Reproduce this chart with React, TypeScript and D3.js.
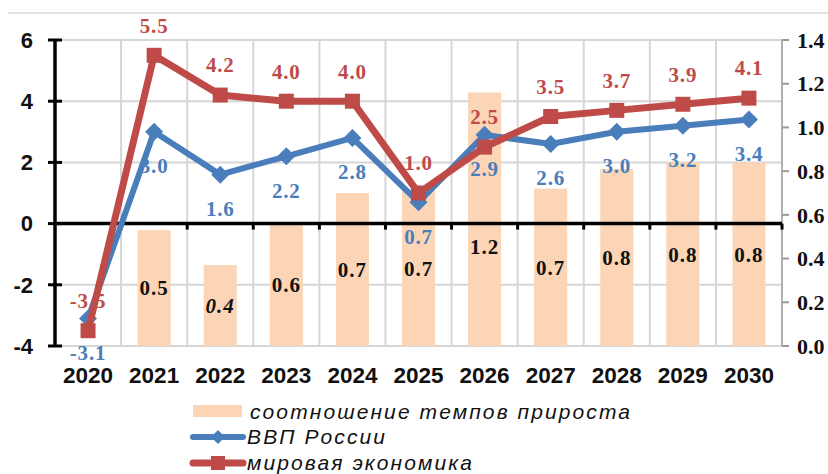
import React from "react";
import * as d3 from "d3";

const years = ["2020","2021","2022","2023","2024","2025","2026","2027","2028","2029","2030"];
const russiaGdp = [-3.1, 3.0, 1.6, 2.2, 2.8, 0.7, 2.9, 2.6, 3.0, 3.2, 3.4];
const worldEconomy = [-3.5, 5.5, 4.2, 4.0, 4.0, 1.0, 2.5, 3.5, 3.7, 3.9, 4.1];
const growthRatio: (number | null)[] = [null, 0.53, 0.37, 0.56, 0.70, 0.71, 1.16, 0.72, 0.81, 0.84, 0.84];
const leftTicks = [-4, -2, 0, 2, 4, 6];
const rightTicks = [0, 0.2, 0.4, 0.6, 0.8, 1.0, 1.2, 1.4];
const legendLabels = ["соотношение темпов прироста", "ВВП России", "мировая экономика"];

const W = 828, H = 474;
const L = 55, R = 782, T = 40, B = 346;
const BLUE = "#4a7ebb";
const RED = "#be4b48";
const BAR = "#fbd5b5";
const GRID = "#d6d6d6";
const SANS = "'Liberation Sans', Arial, sans-serif";
const SERIF = "'Liberation Serif', 'Times New Roman', serif";

export default function App() {
  const x = d3.scaleBand<string>().domain(years).range([L, R]).padding(0);
  const bw = x.bandwidth();
  const cx = (y: string) => (x(y) as number) + bw / 2;
  const yL = d3.scaleLinear().domain([-4, 6]).range([B, T]);
  const yR = d3.scaleLinear().domain([0, 1.4]).range([B, T]);
  const f1 = d3.format(".1f");
  const fmt = (v: number) => f1(v).replace("\u2212", "-");
  const lineGen = d3.line<number>().x((_, i) => cx(years[i])).y((d) => yL(d));
  const y0 = yL(0);

  const diamond = (px: number, py: number, s: number) =>
    `M${px},${py - s} L${px + s},${py} L${px},${py + s} L${px - s},${py} Z`;

  return (
    <svg width={W} height={H} style={{ position: "absolute", left: 0, top: 0, background: "#fff" }}>
      <line x1={8} x2={W} y1={13} y2={13} stroke="#e3e3e3" strokeWidth={2} />
      {/* horizontal grid */}
      {leftTicks.filter((t) => t !== 0).map((t) => (
        <line key={"h" + t} x1={L} x2={R} y1={yL(t)} y2={yL(t)} stroke={GRID} strokeWidth={2} />
      ))}
      {/* vertical grid */}
      {years.slice(1).map((yr) => (
        <line key={"v" + yr} x1={x(yr)} x2={x(yr)} y1={T} y2={B} stroke={GRID} strokeWidth={2} />
      ))}
      {/* right axis */}
      <line x1={R} x2={R} y1={T} y2={B} stroke="#b0b0b0" strokeWidth={2} />
      {rightTicks.map((t) => (
        <g key={"r" + t}>
          <line x1={R} x2={R + 7} y1={yR(t)} y2={yR(t)} stroke="#9a9a9a" strokeWidth={2} />
          <text x={797} y={yR(t)} dy="0.35em" fontFamily={SERIF} fontWeight="bold" fontSize={22} fill="#111">
            {fmt(t)}
          </text>
        </g>
      ))}
      {/* bars */}
      {growthRatio.map((v, i) =>
        v == null ? null : (
          <rect key={"b" + i} x={(x(years[i]) as number) + bw * 0.25} width={bw * 0.5}
            y={yR(v)} height={yR(0) - yR(v)} fill={BAR} />
        )
      )}
      {growthRatio.map((v, i) =>
        v == null ? null : (
          <text key={"bl" + i} x={cx(years[i])} y={Math.max((yR(v) + yR(0)) / 2, y0 + 23)} dy="0.35em"
            textAnchor="middle" fontFamily={SERIF} fontWeight="bold" fontStyle={v < 0.4 ? "italic" : "normal"}
            fontSize={21} letterSpacing={1} fill="#111">
            {fmt(v)}
          </text>
        )
      )}
      {/* data labels */}
      {worldEconomy.map((v, i) => (
        <text key={"rl" + i} x={cx(years[i])} y={yL(v) - 30} dy="0.35em" textAnchor="middle"
          fontFamily={SERIF} fontWeight="bold" fontSize={21} letterSpacing={0.8} fill={RED}>
          {fmt(v)}
        </text>
      ))}
      {russiaGdp.map((v, i) => (
        <text key={"bl2" + i} x={cx(years[i])} y={yL(v) + 34} dy="0.35em" textAnchor="middle"
          fontFamily={SERIF} fontWeight="bold" fontSize={21} letterSpacing={0.8} fill={BLUE}>
          {fmt(v)}
        </text>
      ))}
      {/* zero axis */}
      <line x1={L} x2={R} y1={y0} y2={y0} stroke="#000" strokeWidth={3.5} />
      {years.map((yr) => (
        <line key={"xt" + yr} x1={(x(yr) as number) + bw} x2={(x(yr) as number) + bw} y1={y0} y2={y0 + 6}
          stroke="#000" strokeWidth={3} />
      ))}
      {/* left axis */}
      <line x1={L} x2={L} y1={T} y2={B} stroke="#000" strokeWidth={3.5} />
      {leftTicks.map((t) => (
        <g key={"l" + t}>
          <line x1={L - 7} x2={L + 7} y1={yL(t)} y2={yL(t)} stroke="#000" strokeWidth={3} />
          <text x={33} y={yL(t)} dy="0.35em" textAnchor="end" fontFamily={SANS} fontWeight="bold"
            fontSize={22} fill="#111">
            {t}
          </text>
        </g>
      ))}
      {/* x labels */}
      {years.map((yr) => (
        <text key={"xl" + yr} x={cx(yr)} y={383} textAnchor="middle" fontFamily={SANS} fontWeight="bold"
          fontSize={22.5} fill="#111">
          {yr}
        </text>
      ))}
      {/* lines */}
      <path d={lineGen(russiaGdp) || ""} fill="none" stroke={BLUE} strokeWidth={6} strokeLinejoin="round" />
      {russiaGdp.map((v, i) => (
        <path key={"bm" + i} d={diamond(cx(years[i]), yL(v), 9)} fill={BLUE} />
      ))}
      <path d={lineGen(worldEconomy) || ""} fill="none" stroke={RED} strokeWidth={7} strokeLinejoin="round" />
      {worldEconomy.map((v, i) => (
        <rect key={"rm" + i} x={cx(years[i]) - 7.5} y={yL(v) - 7.5} width={15} height={15} fill={RED} />
      ))}
      {/* legend */}
      <rect x={193} y={405} width={49} height={12} fill={BAR} />
      <text x={250} y={419} fontFamily={SANS} fontStyle="italic" fontSize={21} fill="#111"
        textLength={380} lengthAdjust="spacing">
        {legendLabels[0]}
      </text>
      <line x1={193} x2={243} y1={437} y2={437} stroke={BLUE} strokeWidth={6} strokeLinecap="round" />
      <path d={diamond(218, 437, 7)} fill={BLUE} />
      <text x={247} y={444} fontFamily={SANS} fontStyle="italic" fontSize={21} fill="#111"
        textLength={138} lengthAdjust="spacing">
        {legendLabels[1]}
      </text>
      <line x1={193} x2={243} y1={463} y2={463} stroke={RED} strokeWidth={7} strokeLinecap="round" />
      <rect x={211} y={456} width={14} height={14} fill={RED} />
      <text x={247} y={470} fontFamily={SANS} fontStyle="italic" fontSize={21} fill="#111"
        textLength={225} lengthAdjust="spacing">
        {legendLabels[2]}
      </text>
    </svg>
  );
}
